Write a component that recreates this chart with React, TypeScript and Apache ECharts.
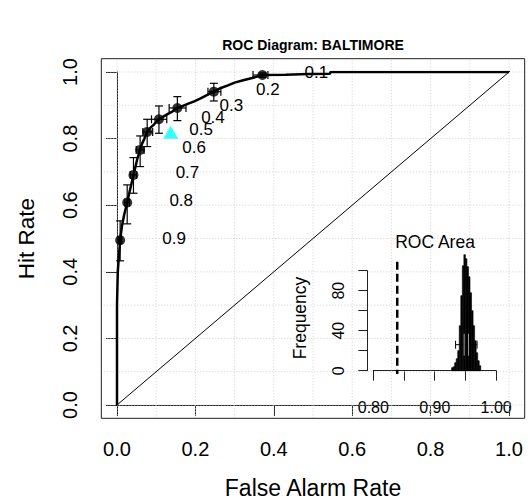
import React, { useEffect, useRef } from 'react';
import * as echarts from 'echarts';

// ---- data ----
const THRESHOLDS = ['0.9', '0.8', '0.7', '0.6', '0.5', '0.4', '0.3', '0.2', '0.1'];
const POINT_FAR = [0.008, 0.026, 0.042, 0.059, 0.077, 0.107, 0.154, 0.247, 0.371];
const POINT_HIT = [0.495, 0.608, 0.691, 0.766, 0.82, 0.858, 0.892, 0.941, 0.991];
const HIT_LO = [0.433, 0.544, 0.636, 0.716, 0.776, 0.816, 0.854, 0.913, 0.984];
const HIT_HI = [0.553, 0.661, 0.743, 0.808, 0.858, 0.898, 0.926, 0.966, 0.997];
const FAR_LO = [0.004, 0.02, 0.034, 0.049, 0.066, 0.088, 0.133, 0.232, 0.347];
const FAR_HI = [0.012, 0.032, 0.05, 0.069, 0.091, 0.127, 0.176, 0.265, 0.385];

const CURVE_FAR = [0, 0, 0.002, 0.005, 0.008, 0.013, 0.018, 0.026, 0.031, 0.036, 0.042, 0.047, 0.052, 0.059, 0.064, 0.07, 0.077, 0.085, 0.094, 0.1, 0.107, 0.118, 0.13, 0.142, 0.154, 0.168, 0.182, 0.197, 0.212, 0.228, 0.247, 0.265, 0.283, 0.3, 0.322, 0.345, 0.371, 0.43, 0.49, 0.543, 0.545, 1];
const CURVE_HIT = [0, 0.3, 0.4, 0.45, 0.495, 0.54, 0.57, 0.608, 0.635, 0.66, 0.691, 0.715, 0.74, 0.766, 0.785, 0.8, 0.82, 0.832, 0.842, 0.85, 0.858, 0.866, 0.874, 0.882, 0.892, 0.898, 0.905, 0.912, 0.92, 0.93, 0.941, 0.952, 0.96, 0.968, 0.975, 0.982, 0.991, 0.992, 0.994, 0.995, 1, 1];

const CLIM_FAR = [0.137];
const CLIM_HIT = [0.819];

const GRID_VALUES = [0, 0.1, 0.2, 0.3, 0.4, 0.5, 0.6, 0.7, 0.8, 0.9, 1];
const DIAGONAL = [-0.04, 1.04];

// inset: bootstrap ROC area histogram
const AREA_BINS = [0.92875, 0.93125, 0.93375, 0.93625, 0.93875, 0.94125, 0.94375, 0.94625, 0.94875, 0.95125, 0.95375, 0.95625, 0.95875, 0.96125, 0.96375, 0.96625, 0.96875, 0.97125, 0.97375];
const AREA_FREQ = [3, 4, 8, 12, 20, 45, 75, 105, 116, 112, 104, 94, 78, 60, 45, 30, 18, 10, 5];
const AREA_BIN_WIDTH = 0.0025;
const AREA_REFERENCE = [0.839];
const AREA_REF_SPAN = [109, -3.3];
const AREA_CI = [0.934, 0.969];
const AREA_MARKS = [0.948, 0.955];
const AREA_CI_LEVEL = 26;
const AREA_X_LABELS = ['0.80', '0.90', '1.00'];
const AREA_Y_LABELS = [0, 40, 80];

// ---- layout ----
const FONT = 'Liberation Sans, Arial, Helvetica, sans-serif';
const G = { left: 117, top: 72, width: 392, height: 333 };
const PADX = 0.04 * G.width;
const PADY = 0.04 * G.height;
const BOX = { x: G.left - PADX, y: G.top - PADY, w: G.width + 2 * PADX, h: G.height + 2 * PADY };
const INSET = { left: 373.3, top: 270.7, width: 122.8, height: 100 };

export default function App() {
  const ref = useRef<HTMLDivElement>(null);
  useEffect(() => {
    if (!ref.current) return;
    const chart = echarts.init(ref.current, undefined, { renderer: 'svg' });

    const points = THRESHOLDS.map((t, i) => [POINT_FAR[i], POINT_HIT[i]]);
    const errRows = THRESHOLDS.map((_, i) => [POINT_FAR[i], POINT_HIT[i], FAR_LO[i], FAR_HI[i], HIT_LO[i], HIT_HI[i]]);
    const curve = CURVE_FAR.map((x, i) => [x, CURVE_HIT[i]]);
    const xAreaLabelSet = new Set(AREA_X_LABELS);
    const yAreaLabelSet = new Set(AREA_Y_LABELS);

    const option: any = {
      animation: false,
      backgroundColor: '#ffffff',
      textStyle: { fontFamily: FONT },
      grid: [
        { left: G.left, top: G.top, width: G.width, height: G.height },
        { left: INSET.left, top: INSET.top, width: INSET.width, height: INSET.height },
      ],
      xAxis: [
        {
          gridIndex: 0, type: 'value', min: 0, max: 1, interval: 0.2, offset: PADY,
          axisLine: { show: true, lineStyle: { color: '#222', width: 1 } },
          axisTick: { show: true, length: 11, lineStyle: { color: '#222', width: 1 } },
          axisLabel: { fontSize: 20, color: '#000', margin: 21, fontFamily: FONT, formatter: (v: number) => v.toFixed(1) },
          splitLine: { show: false },
        },
        {
          gridIndex: 1, type: 'value', min: 0.8, max: 1.0, interval: 0.05, offset: 3.3,
          axisLine: { show: true, lineStyle: { color: '#222', width: 1 } },
          axisTick: { show: true, length: 10, lineStyle: { color: '#222', width: 1 } },
          axisLabel: {
            fontSize: 16, color: '#000', margin: 25, fontFamily: FONT,
            formatter: (v: number) => (xAreaLabelSet.has(v.toFixed(2)) ? v.toFixed(2) : ''),
          },
          splitLine: { show: false },
        },
      ],
      yAxis: [
        {
          gridIndex: 0, type: 'value', min: 0, max: 1, interval: 0.2, offset: PADX,
          axisLine: { show: true, lineStyle: { color: '#222', width: 1 } },
          axisTick: { show: true, length: 11, lineStyle: { color: '#222', width: 1 } },
          axisLabel: { fontSize: 20, color: '#000', margin: 21, rotate: 90, fontFamily: FONT, formatter: (v: number) => v.toFixed(1) },
          splitLine: { show: false },
        },
        {
          gridIndex: 1, type: 'value', min: 0, max: 100, interval: 20, offset: 6,
          axisLine: { show: true, lineStyle: { color: '#222', width: 1 } },
          axisTick: { show: true, length: 9, lineStyle: { color: '#222', width: 1 } },
          axisLabel: {
            fontSize: 16, color: '#000', margin: 21, rotate: 90, fontFamily: FONT,
            formatter: (v: number) => (yAreaLabelSet.has(Math.round(v)) ? String(Math.round(v)) : ''),
          },
          splitLine: { show: false },
        },
      ],
      graphic: [
        {
          type: 'rect', z: 100, silent: true,
          shape: { x: BOX.x, y: BOX.y, width: BOX.w, height: BOX.h },
          style: { fill: 'none', stroke: '#222', lineWidth: 1 },
        },
        {
          type: 'text', x: BOX.x + BOX.w / 2, y: 45,
          style: { text: 'ROC Diagram: BALTIMORE', font: `bold 14px ${FONT}`, fill: '#000', align: 'center', verticalAlign: 'middle' },
        },
        {
          type: 'text', x: BOX.x + BOX.w / 2, y: 488,
          style: { text: 'False Alarm Rate', font: `23px ${FONT}`, fill: '#000', align: 'center', verticalAlign: 'middle' },
        },
        {
          type: 'text', x: 26, y: 238.5, rotation: Math.PI / 2,
          style: { text: 'Hit Rate', font: `22.5px ${FONT}`, fill: '#000', align: 'center', verticalAlign: 'middle' },
        },
        {
          type: 'text', x: 435, y: 242,
          style: { text: 'ROC Area', font: `17.5px ${FONT}`, fill: '#000', align: 'center', verticalAlign: 'middle' },
        },
        {
          type: 'text', x: 300, y: 318, rotation: Math.PI / 2,
          style: { text: 'Frequency', font: `17.5px ${FONT}`, fill: '#000', align: 'center', verticalAlign: 'middle' },
        },
      ],
      series: [
        {
          type: 'custom', xAxisIndex: 0, yAxisIndex: 0, clip: false, silent: true, z: 1,
          data: GRID_VALUES.map((v) => [v, v]),
          renderItem: (params: any, api: any) => {
            const v = api.value(0);
            const a = api.coord([v, DIAGONAL[0]]);
            const b = api.coord([v, DIAGONAL[1]]);
            const c = api.coord([DIAGONAL[0], v]);
            const d = api.coord([DIAGONAL[1], v]);
            const style = { stroke: '#cfcfcf', lineWidth: 1, lineDash: [1, 2] };
            return {
              type: 'group',
              children: [
                { type: 'line', shape: { x1: a[0], y1: a[1], x2: b[0], y2: b[1] }, style },
                { type: 'line', shape: { x1: c[0], y1: c[1], x2: d[0], y2: d[1] }, style },
              ],
            };
          },
        },
        {
          type: 'line', xAxisIndex: 0, yAxisIndex: 0, clip: false, symbol: 'none', z: 2,
          data: [[DIAGONAL[0], DIAGONAL[0]], [DIAGONAL[1], DIAGONAL[1]]],
          lineStyle: { color: '#000', width: 1 },
        },
        {
          type: 'line', xAxisIndex: 0, yAxisIndex: 0, symbol: 'none', z: 3,
          data: curve,
          lineStyle: { color: '#000', width: 2.5 },
        },
        {
          type: 'custom', xAxisIndex: 0, yAxisIndex: 0, clip: false, z: 4,
          data: errRows,
          renderItem: (params: any, api: any) => {
            const x = api.value(0), y = api.value(1);
            const xl = api.value(2), xh = api.value(3), yl = api.value(4), yh = api.value(5);
            const pLo = api.coord([x, yl]);
            const pHi = api.coord([x, yh]);
            const qLo = api.coord([xl, y]);
            const qHi = api.coord([xh, y]);
            const cap = 4;
            const style = { stroke: '#000', lineWidth: 1.2 };
            const ln = (x1: number, y1: number, x2: number, y2: number) => ({ type: 'line', shape: { x1, y1, x2, y2 }, style });
            return {
              type: 'group',
              children: [
                ln(pLo[0], pLo[1], pHi[0], pHi[1]),
                ln(pLo[0] - cap, pLo[1], pLo[0] + cap, pLo[1]),
                ln(pHi[0] - cap, pHi[1], pHi[0] + cap, pHi[1]),
                ln(qLo[0], qLo[1], qHi[0], qHi[1]),
                ln(qLo[0], qLo[1] - cap, qLo[0], qLo[1] + cap),
                ln(qHi[0], qHi[1] - cap, qHi[0], qHi[1] + cap),
              ],
            };
          },
        },
        {
          type: 'scatter', xAxisIndex: 0, yAxisIndex: 0, z: 5,
          data: points, symbol: 'circle', symbolSize: 10,
          itemStyle: { color: '#000' },
        },
        {
          type: 'custom', xAxisIndex: 0, yAxisIndex: 0, clip: false, z: 6,
          data: THRESHOLDS.map((t, i) => [POINT_FAR[i], POINT_HIT[i], i]),
          renderItem: (params: any, api: any) => {
            const p = api.coord([api.value(0), api.value(1)]);
            return {
              type: 'text',
              x: p[0] + 54, y: p[1] - 2,
              style: {
                text: THRESHOLDS[api.value(2)], fill: '#000', font: `17px ${FONT}`,
                align: 'center', verticalAlign: 'middle',
              },
            };
          },
        },
        {
          type: 'scatter', xAxisIndex: 0, yAxisIndex: 0, z: 5,
          data: CLIM_FAR.map((x, i) => [x, CLIM_HIT[i]]),
          symbol: 'triangle', symbolSize: [15, 13],
          itemStyle: { color: '#00FFFF' },
        },
        // inset
        {
          type: 'custom', xAxisIndex: 1, yAxisIndex: 1, clip: false, z: 6,
          data: AREA_BINS.map((b, i) => [b, AREA_FREQ[i]]),
          renderItem: (params: any, api: any) => {
            const b = api.value(0), f = api.value(1);
            const p0 = api.coord([b - AREA_BIN_WIDTH / 2, 0]);
            const p1 = api.coord([b + AREA_BIN_WIDTH / 2, f]);
            return {
              type: 'rect',
              shape: { x: p0[0], y: p1[1], width: p1[0] - p0[0], height: p0[1] - p1[1] },
              style: { fill: '#000', stroke: '#000', lineWidth: 0.6 },
            };
          },
        },
        {
          type: 'line', xAxisIndex: 1, yAxisIndex: 1, clip: false, symbol: 'none', z: 6,
          data: AREA_REF_SPAN.map((f) => [AREA_REFERENCE[0], f]),
          lineStyle: { color: '#000', width: 2.5, type: [8, 4] },
        },
        {
          type: 'custom', xAxisIndex: 1, yAxisIndex: 1, clip: false, z: 7,
          data: [[AREA_CI[0], AREA_CI[1], AREA_MARKS[0], AREA_MARKS[1], AREA_CI_LEVEL]],
          renderItem: (params: any, api: any) => {
            const lvl = api.value(4);
            const a = api.coord([api.value(0), lvl]);
            const b = api.coord([api.value(1), lvl]);
            const m1 = api.coord([api.value(2), lvl]);
            const m2 = api.coord([api.value(3), lvl]);
            const k = { stroke: '#000', lineWidth: 1 };
            const g = { stroke: '#9a9a9a', lineWidth: 1 };
            const ln = (x1: number, y1: number, x2: number, y2: number, style: any) => ({ type: 'line', shape: { x1, y1, x2, y2 }, style });
            return {
              type: 'group',
              children: [
                ln(a[0], a[1], b[0], b[1], k),
                ln(a[0], a[1] - 4, a[0], a[1] + 4, k),
                ln(b[0], b[1] - 4, b[0], b[1] + 4, k),
                ln(m1[0], m1[1] - 11, m1[0], m1[1] + 11, g),
                ln(m2[0], m2[1] - 11, m2[0], m2[1] + 11, g),
              ],
            };
          },
        },
      ],
    };
    chart.setOption(option);
    return () => chart.dispose();
  }, []);
  return <div ref={ref} style={{ position: 'fixed', left: 0, top: 0, width: 530, height: 504 }} />;
}
